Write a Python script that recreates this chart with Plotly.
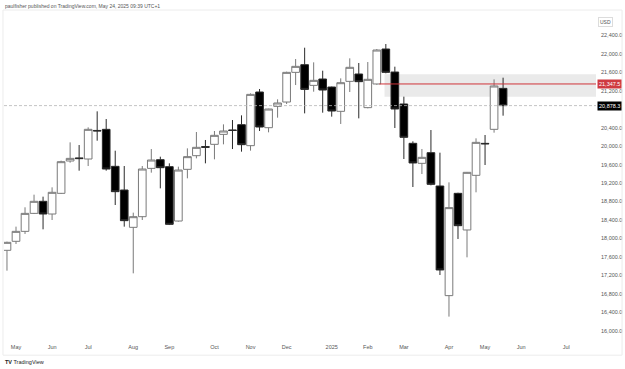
import pandas as pd
import plotly.graph_objects as go

# Weekly candles (week start dates)
week_start = "2024-04-29"
n_weeks = 56
dates = pd.date_range(week_start, periods=n_weeks, freq="7D")

opens = [17742, 17937, 18153, 18543, 18804, 18529, 18977, 19678, 19745, 19721,
         20340, 20364, 19562, 19049, 18240, 18471, 19518, 19706, 19555, 18377,
         19497, 19793, 19990, 20039, 20255, 20350, 20465, 20010, 21173, 20400,
         20862, 20956, 21599, 21765, 21317, 21455, 21281, 20754, 21404, 21563,
         20834, 21347, 22105, 21606, 20913, 20061, 19627, 19858, 19136, 16760,
         18977, 18183, 19367, 20060, 20364, 21252]
highs = [17930, 18255, 18674, 18948, 18905, 19107, 19685, 20082, 20024, 20407,
         20754, 20588, 19901, 19569, 18558, 19569, 19937, 19771, 19627, 19555,
         19952, 20306, 20133, 20328, 20472, 20566, 20667, 21144, 21238, 20810,
         21014, 21614, 21888, 22133, 21816, 21635, 21290, 21469, 21903, 21802,
         21823, 22105, 22213, 21722, 21072, 20104, 19938, 20349, 19858, 19215,
         18990, 19440, 20169, 20241, 21447, 21483]
lows = [17301, 17879, 18096, 18530, 18197, 18399, 18963, 19641, 19468, 19569,
        20118, 19468, 18724, 18255, 17243, 18399, 19425, 19085, 18290, 18363,
        19302, 19735, 19627, 19714, 20039, 19937, 19880, 19902, 20328, 20299,
        20617, 20913, 21324, 20710, 21180, 20725, 20639, 20480, 21173, 20602,
        20819, 21330, 21578, 20393, 19721, 19114, 19396, 19150, 17207, 16305,
        17988, 17590, 18999, 19591, 20292, 20660]
closes = [17915, 18153, 18543, 18804, 18529, 18999, 19663, 19735, 19730, 20364,
          20330, 19504, 19013, 18385, 18471, 19504, 19699, 19533, 18305, 19482,
          19772, 19974, 19975, 20234, 20328, 20340, 20032, 21122, 20414, 20804,
          20935, 21599, 21729, 21230, 21426, 21216, 20761, 21375, 21708, 21397,
          21448, 22083, 21599, 20805, 20191, 19635, 19757, 19172, 17316, 18667,
          18276, 19432, 20082, 20050, 21303, 20878.3]

# Axis ticks
price_ticks = [16000, 16400, 16800, 17200, 17600, 18000, 18400, 18800, 19200,
               19600, 20000, 20400, 21200, 21600, 22000, 22400]
month_tick_dates = ["2024-05-06", "2024-06-03", "2024-07-01", "2024-08-05",
                    "2024-09-02", "2024-10-07", "2024-11-04", "2024-12-02",
                    "2025-01-06", "2025-02-03", "2025-03-03", "2025-04-07",
                    "2025-05-05", "2025-06-02", "2025-07-07"]
month_tick_labels = ["May", "Jun", "Jul", "Aug", "Sep", "Oct", "Nov", "Dec",
                     "2025", "Feb", "Mar", "Apr", "May", "Jun", "Jul"]

# Levels
resistance_level = 21347.5
last_price = 20878.3
zone_low = 21071
zone_high = 21556
zone_start = "2025-02-16"
level_start = "2025-02-12"

ref = pd.Timestamp("2024-05-06")
x_range = [ref - pd.Timedelta(days=7 * 1.33), ref + pd.Timedelta(days=7 * 64.3)]
y_range = [15755, 22907]

FONT = "Liberation Sans, Arial, sans-serif"
LABEL_COLOR = "#555555"

fig = go.Figure()
fig.add_trace(go.Candlestick(
    x=dates, open=opens, high=highs, low=lows, close=closes,
    increasing=dict(line=dict(color="#7a7a7a", width=1), fillcolor="#ffffff"),
    decreasing=dict(line=dict(color="#2a2a2a", width=1), fillcolor="#000000"),
    whiskerwidth=0, showlegend=False, hoverinfo="skip",
))

# grey zone
fig.add_shape(type="rect", xref="x", yref="y", x0=zone_start,
              x1=x_range[1] + pd.Timedelta(days=60), y0=zone_low, y1=zone_high,
              fillcolor="rgba(170,170,170,0.25)", line=dict(width=0), layer="below")
# red level line
fig.add_shape(type="line", xref="x", yref="y", x0=level_start,
              x1=x_range[1] + pd.Timedelta(days=60), y0=resistance_level,
              y1=resistance_level, line=dict(color="#d0343a", width=1))
# last price dashed line
fig.add_shape(type="line", xref="paper", yref="y", x0=0, x1=1, y0=last_price,
              y1=last_price, line=dict(color="#b4b4b4", width=0.8, dash="3px,2px"))

# pane border
fig.add_shape(type="rect", xref="paper", yref="paper", x0=-0.0017, x1=1.044,
              y0=-0.04, y1=1.006, line=dict(color="#ececec", width=1))

# price labels on the axis
fig.add_annotation(xref="paper", yref="y", x=1, y=resistance_level,
                   text="21,347.5", showarrow=False, xanchor="left", xshift=1,
                   bgcolor="#cf3a40", font=dict(color="white", size=5.5, family=FONT),
                   borderpad=1)
fig.add_annotation(xref="paper", yref="y", x=1, y=last_price,
                   text="20,878.3", showarrow=False, xanchor="left", xshift=1,
                   bgcolor="#000000", font=dict(color="white", size=5.5, family=FONT),
                   borderpad=1)
fig.add_annotation(xref="paper", yref="paper", x=1, y=1, yshift=-5,
                   text="USD", showarrow=False, xanchor="left", xshift=2,
                   bordercolor="#dcdcdc", borderwidth=1, borderpad=1,
                   font=dict(color=LABEL_COLOR, size=5, family=FONT))

# header & footer
fig.add_annotation(xref="paper", yref="paper", x=0, y=1, yshift=6, xshift=-1,
                   text="paulfisher published on TradingView.com, May 24, 2025 09:39 UTC+1",
                   showarrow=False, xanchor="left", yanchor="middle",
                   font=dict(color="#555555", size=5, family=FONT))
fig.add_annotation(xref="paper", yref="paper", x=0, y=0, yshift=-20, xshift=-1,
                   text="<b>TV</b> TradingView",
                   showarrow=False, xanchor="left", yanchor="middle",
                   font=dict(color="#222222", size=5.5, family=FONT))

fig.update_layout(
    width=625, height=369,
    margin=dict(l=4, r=29, t=12, b=27),
    paper_bgcolor="white", plot_bgcolor="white",
    boxgap=0.15, boxgroupgap=0,
    font=dict(family=FONT, size=5.5, color=LABEL_COLOR),
    xaxis=dict(range=x_range, rangeslider=dict(visible=False), showgrid=False,
               zeroline=False, showline=False, tickmode="array",
               tickvals=month_tick_dates, ticktext=month_tick_labels,
               ticks="", tickfont=dict(size=5.5, color=LABEL_COLOR)),
    yaxis=dict(range=y_range, side="right", showgrid=False, zeroline=False,
               showline=False, tickmode="array", tickvals=price_ticks,
               ticktext=[f"{v:,.1f}" for v in price_ticks], ticks="",
               ticklabelstandoff=4,
               tickfont=dict(size=5.5, color=LABEL_COLOR)),
)

fig.write_html("out.html")
